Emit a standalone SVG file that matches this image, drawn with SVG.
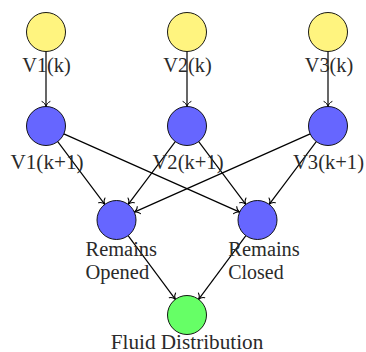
<svg xmlns="http://www.w3.org/2000/svg" width="366" height="352" viewBox="0 0 366 352">
  <style>
    .node { stroke: #000; stroke-width: 0.9; }
    .in { fill: #fff47f; }
    .state { fill: #6666ff; }
    .out { fill: #66ff66; }
    .lbl { font-family: "Liberation Serif", "DejaVu Serif", serif; font-size: 20.5px; fill: #2a2a2a; }
    .mid { text-anchor: middle; }
    .edge { stroke: #000; stroke-width: 1.2; fill: none; marker-end: url(#tip); }
  </style>
  <defs>
    <marker id="tip" markerUnits="userSpaceOnUse" markerWidth="12" markerHeight="12" refX="0" refY="0" viewBox="-7 -6 8 12" orient="auto" overflow="visible">
      <path d="M-5,-4 C-4,-1.6 -1.6,-0.3 0,0 C-1.6,0.3 -4,1.6 -5,4" fill="none" stroke="#000" stroke-width="1" stroke-linecap="round"/>
    </marker>
  </defs>

  <!-- connectors -->
  <g id="connectors">
    <line class="edge" x1="46" y1="51.5" x2="46" y2="106.5"/>
    <line class="edge" x1="187" y1="51.5" x2="187" y2="106.5"/>
    <line class="edge" x1="328" y1="51.5" x2="328" y2="106.5"/>
    <line class="edge" x1="57.7" y1="141.6" x2="104.8" y2="204.4"/>
    <line class="edge" x1="63.8" y1="133.9" x2="239.7" y2="212.1"/>
    <line class="edge" x1="175.3" y1="141.6" x2="128.2" y2="204.4"/>
    <line class="edge" x1="198.7" y1="141.6" x2="245.8" y2="204.4"/>
    <line class="edge" x1="310.2" y1="133.9" x2="134.3" y2="212.1"/>
    <line class="edge" x1="316.3" y1="141.6" x2="269.2" y2="204.4"/>
    <line class="edge" x1="128.1" y1="235.7" x2="175.4" y2="299.3"/>
    <line class="edge" x1="245.9" y1="235.7" x2="198.6" y2="299.3"/>
  </g>

  <!-- current valve states -->
  <g id="v1k">
    <circle class="node in" cx="46" cy="32" r="19.5"/>
    <text class="lbl mid" x="46.5" y="72" textLength="48.5" lengthAdjust="spacingAndGlyphs">V1(k)</text>
  </g>
  <g id="v2k">
    <circle class="node in" cx="187" cy="32" r="19.5"/>
    <text class="lbl mid" x="187.5" y="72" textLength="48.5" lengthAdjust="spacingAndGlyphs">V2(k)</text>
  </g>
  <g id="v3k">
    <circle class="node in" cx="328" cy="32" r="19.5"/>
    <text class="lbl mid" x="329" y="72" textLength="48.5" lengthAdjust="spacingAndGlyphs">V3(k)</text>
  </g>

  <!-- next valve states -->
  <g id="v1k1">
    <circle class="node state" cx="46" cy="126" r="19.5"/>
    <text class="lbl mid" x="47" y="169" textLength="73" lengthAdjust="spacingAndGlyphs">V1(k+1)</text>
  </g>
  <g id="v2k1">
    <circle class="node state" cx="187" cy="126" r="19.5"/>
    <text class="lbl mid" x="188" y="169" textLength="71" lengthAdjust="spacingAndGlyphs">V2(k+1)</text>
  </g>
  <g id="v3k1">
    <circle class="node state" cx="328" cy="126" r="19.5"/>
    <text class="lbl mid" x="328.5" y="169" textLength="71" lengthAdjust="spacingAndGlyphs">V3(k+1)</text>
  </g>

  <!-- transitions -->
  <g id="opened">
    <circle class="node state" cx="116.5" cy="220" r="19.5"/>
    <text class="lbl" x="85.5" y="256" textLength="71.5" lengthAdjust="spacingAndGlyphs">Remains</text>
    <text class="lbl" x="85.5" y="279" textLength="63.7" lengthAdjust="spacingAndGlyphs">Opened</text>
  </g>
  <g id="closed">
    <circle class="node state" cx="257.5" cy="220" r="19.5"/>
    <text class="lbl" x="228.3" y="256" textLength="71.5" lengthAdjust="spacingAndGlyphs">Remains</text>
    <text class="lbl" x="228.3" y="279" textLength="55.3" lengthAdjust="spacingAndGlyphs">Closed</text>
  </g>

  <!-- result -->
  <g id="fluid">
    <circle class="node out" cx="187" cy="315" r="19.5"/>
    <text class="lbl mid" x="187" y="349" textLength="152.5" lengthAdjust="spacingAndGlyphs">Fluid Distribution</text>
  </g>
</svg>
